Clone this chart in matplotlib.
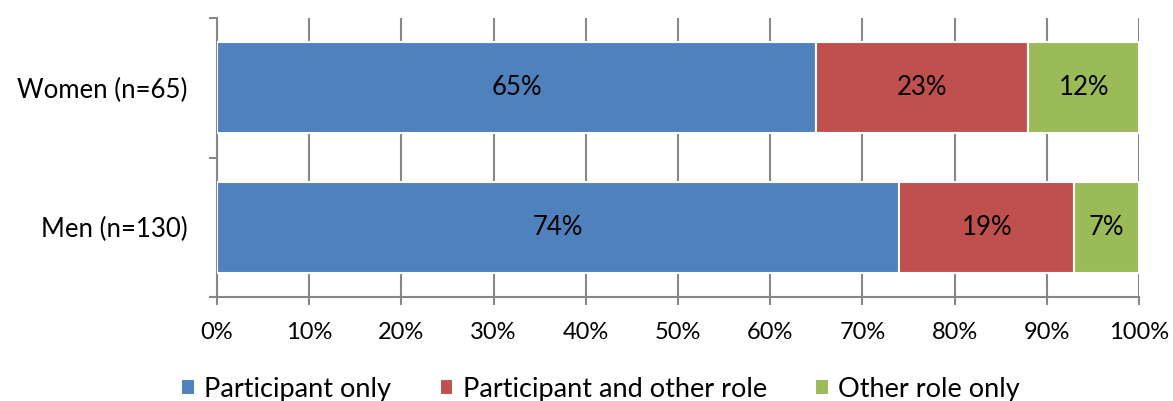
import numpy as np
import matplotlib.pyplot as plt

categories = ["Men (n=130)", "Women (n=65)"]
series_names = ["Participant only", "Participant and other role", "Other role only"]
participant_only = [74, 65]
participant_other = [19, 23]
other_only = [7, 12]
colors = ["#4F81BD", "#C0504D", "#9BBB59"]

plt.rcParams['font.family'] = ['Lato', 'DejaVu Sans']

fig = plt.figure(figsize=(11.73, 4.01), dpi=100)
ax = fig.add_axes([217/1173, 1 - 297/401, (1139 - 217)/1173, (297 - 18)/401])

y = np.arange(len(categories))
left = np.zeros(len(categories))
for name, vals, c in zip(series_names, [participant_only, participant_other, other_only], colors):
    bars = ax.barh(y, vals, left=left, height=0.65, color=c, edgecolor="white",
                   linewidth=1.5, label=name, zorder=3)
    for b, v, l in zip(bars, vals, left):
        ax.text(l + v / 2, b.get_y() + b.get_height() / 2, f"{v}%",
                ha="center", va="center", fontsize=18.5, color="black", zorder=4)
    left = left + np.array(vals)

ax.set_xlim(0, 100)
ax.set_ylim(-0.5, 1.5)
ax.set_xticks(np.arange(0, 101, 10))
ax.set_xticklabels([f"{v}%" for v in range(0, 101, 10)], fontsize=17)
ax.set_yticks([-0.5, 0.5, 1.5])
ax.set_yticklabels([])
ax.set_yticks(y, minor=True)
ax.set_yticklabels(categories, minor=True, fontsize=18.5)
ax.tick_params(axis="y", which="minor", length=0, pad=21)
ax.tick_params(axis="y", which="major", length=6, width=1.5, color="#878787")
ax.tick_params(axis="x", length=6, width=1.5, color="#878787", pad=12)

ax.grid(axis="x", color="#878787", linewidth=1.5, zorder=0)
for s in ["top", "right"]:
    ax.spines[s].set_visible(False)
ax.spines["left"].set_color("#878787")
ax.spines["left"].set_linewidth(1.5)
ax.spines["bottom"].set_color("#878787")
ax.spines["bottom"].set_linewidth(1.5)

fig.legend(loc="center", bbox_to_anchor=(0.512, 1 - 389/401), ncol=3, frameon=False,
           fontsize=19.5, handlelength=0.5, handleheight=0.5, handletextpad=0.34,
           columnspacing=1.8, borderaxespad=0, borderpad=0)

fig.savefig("out.png", dpi=100)
